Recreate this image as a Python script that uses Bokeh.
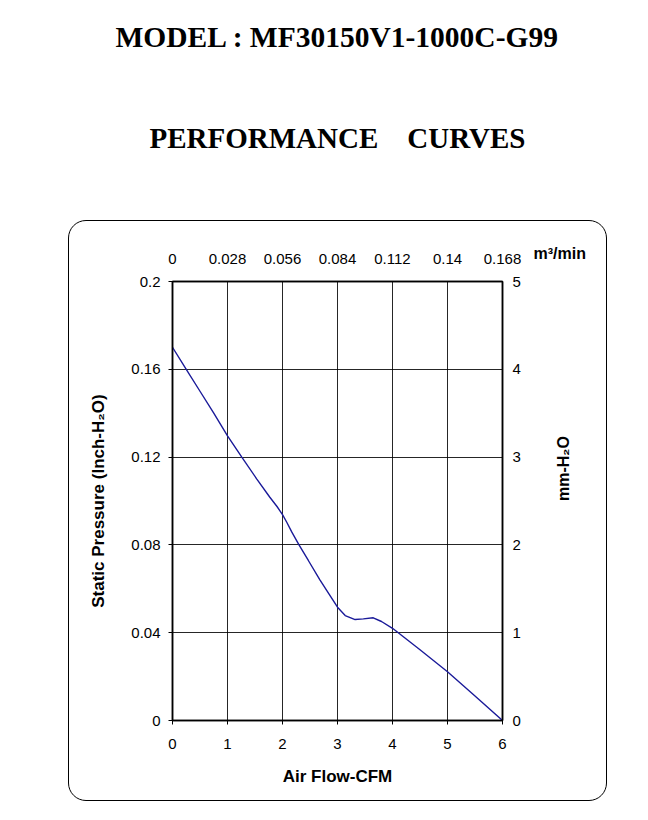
from bokeh.plotting import figure
from bokeh.models import (Range1d, LinearAxis, FixedTicker, Title, InlineStyleSheet)
from bokeh.embed import file_html
from bokeh.resources import INLINE
import math

# ---- data ----
cfm = [0, 0.25, 0.5, 0.75, 1.0, 1.26, 1.53, 1.77, 1.9, 2.0, 2.08, 2.17, 2.3, 2.47,
       2.68, 2.85, 3.0, 3.14, 3.32, 3.47, 3.65, 3.8, 4.0, 4.5, 5.0, 5.5, 6.0]
pressure_inch = [0.170, 0.160, 0.150, 0.140, 0.1297, 0.120, 0.1101, 0.1017,
                 0.0975, 0.0938, 0.0902, 0.0858, 0.080, 0.0729, 0.0641, 0.0575,
                 0.0516, 0.0478, 0.0460, 0.0463, 0.0468, 0.0451, 0.0420, 0.0322,
                 0.0222, 0.0112, 0.0]
x_ticks = [0, 1, 2, 3, 4, 5, 6]
y_ticks = [0, 0.04, 0.08, 0.12, 0.16, 0.2]
y_tick_labels = ["0", "0.04", "0.08", "0.12", "0.16", "0.2"]
top_ticks = [0, 0.028, 0.056, 0.084, 0.112, 0.14, 0.168]
top_tick_labels = ["0", "0.028", "0.056", "0.084", "0.112", "0.14", "0.168"]
right_ticks = [0, 1, 2, 3, 4, 5]

FONT = "Liberation Sans"

# rounded outer frame drawn by CSS on the figure element
box_css = InlineStyleSheet(css="""
:host { position: relative; }
:host::after {
  content: ''; position: absolute; left: 68px; top: 220px;
  width: 539px; height: 581px; box-sizing: border-box;
  border: 1.5px solid #000; border-radius: 18px;
  pointer-events: none; z-index: 5;
}
""")

p = figure(width=648, height=820, output_backend="svg", toolbar_location=None,
           x_range=Range1d(0, 6), y_range=Range1d(0, 0.2),
           min_border_left=172, min_border_right=146, min_border_top=281,
           min_border_bottom=100, background_fill_color="white",
           border_fill_color="white", stylesheets=[box_css])
p.extra_x_ranges = {"m3": Range1d(0, 0.168)}
p.extra_y_ranges = {"mm": Range1d(0, 5)}

p.line(cfm, pressure_inch, line_color="#1a1a99", line_width=1.4)

p.xgrid.ticker = FixedTicker(ticks=x_ticks)
p.ygrid.ticker = FixedTicker(ticks=y_ticks)
for g in (p.xgrid, p.ygrid):
    g.grid_line_color = "#000000"
    g.grid_line_width = 1
    g.grid_line_alpha = 0.85
p.outline_line_color = "black"
p.outline_line_width = 1.5

def style_axis(ax):
    ax.major_label_text_font = FONT
    ax.major_label_text_font_size = "15px"
    ax.major_label_text_color = "black"
    ax.axis_label_text_font = FONT
    ax.axis_label_text_font_style = "bold"
    ax.axis_label_text_font_size = "17px"
    ax.axis_label_text_color = "black"
    ax.minor_tick_line_color = None
    ax.major_tick_in = 0
    ax.major_tick_out = 4
    ax.axis_line_color = "black"
    ax.axis_line_width = 1.5

xa = p.xaxis[0]
xa.ticker = FixedTicker(ticks=x_ticks)
xa.axis_label = "Air Flow-CFM"
style_axis(xa)
xa.major_label_standoff = 14
xa.axis_label_standoff = 15

ya = p.yaxis[0]
ya.ticker = FixedTicker(ticks=y_ticks)
ya.major_label_overrides = {v: s for v, s in zip(y_ticks, y_tick_labels)}
ya.axis_label = "Static Pressure (Inch-H\u2082O)"
style_axis(ya)
ya.major_label_standoff = 8
ya.axis_label_standoff = 20

top = LinearAxis(x_range_name="m3", ticker=FixedTicker(ticks=top_ticks),
                 major_label_overrides={v: s for v, s in zip(top_ticks, top_tick_labels)})
style_axis(top)
top.major_tick_out = 0
top.major_label_standoff = 18
p.add_layout(top, "above")

right = LinearAxis(y_range_name="mm", ticker=FixedTicker(ticks=right_ticks),
                   axis_label="mm-H\u2082O")
style_axis(right)
right.axis_label_text_font_size = "16px"
right.major_tick_out = 0
right.major_label_standoff = 10
right.axis_label_standoff = 40
try:
    right.axis_label_orientation = math.pi / 2
except Exception:
    pass
try:
    right.axis_label_text_align = "center"
except Exception:
    pass
p.add_layout(right, "right")

# unit label of the top axis
t_unit = Title(text="m\u00b3/min", align="left", text_font=FONT, text_font_style="bold",
               text_font_size="16px", text_color="black", offset=361)
try:
    t_unit.standoff = -22
except Exception:
    t_unit.standoff = 0
p.add_layout(t_unit, "above")

# page titles
t_perf = Title(text="PERFORMANCE\u00a0\u00a0\u00a0\u00a0CURVES", align="center",
               text_font="Liberation Serif", text_font_style="bold",
               text_font_size="29px", text_color="black", standoff=194)
p.add_layout(t_perf, "above")
t_model = Title(text="MODEL : MF30150V1-1000C-G99", align="center",
                text_font="Liberation Serif", text_font_style="bold",
                text_font_size="29.5px", text_color="black")
try:
    t_model.standoff = -60
except Exception:
    t_model.standoff = 0
p.add_layout(t_model, "above")

open("out.html", "w").write(file_html(p, INLINE))
